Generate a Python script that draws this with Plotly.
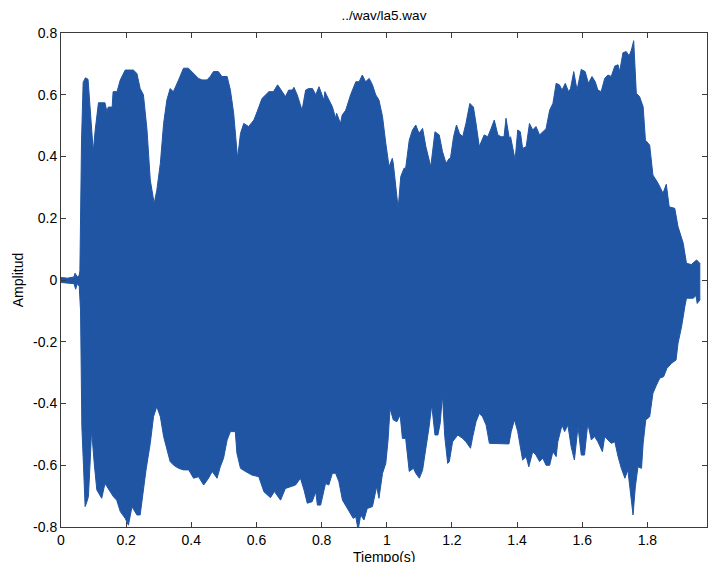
import plotly.graph_objects as go

title_text = "../wav/la5.wav"
x_label = "Tiempo(s)"
y_label = "Amplitud"

# Upper envelope of the waveform (time s, amplitude)
t_upper = [0.0, 0.02, 0.04, 0.043, 0.05, 0.056, 0.058, 0.063, 0.068, 0.075, 0.083, 0.089, 0.096, 0.099,
           0.105, 0.11, 0.115, 0.135, 0.141, 0.145, 0.157, 0.16, 0.172, 0.182, 0.197, 0.212, 0.222,
           0.233, 0.243, 0.253, 0.264, 0.274, 0.286, 0.294, 0.305, 0.315, 0.325, 0.335, 0.345, 0.361,
           0.376, 0.391, 0.402, 0.422, 0.433, 0.448, 0.458, 0.468, 0.483, 0.494, 0.51, 0.52, 0.53,
           0.542, 0.551, 0.561, 0.576, 0.592, 0.602, 0.617, 0.638, 0.652, 0.665, 0.689, 0.699, 0.71,
           0.715, 0.725, 0.74, 0.751, 0.76, 0.772, 0.782, 0.792, 0.807, 0.81, 0.833, 0.843, 0.846,
           0.858, 0.863, 0.874, 0.889, 0.905, 0.915, 0.925, 0.935, 0.946, 0.956, 0.966, 0.976, 0.987,
           0.997, 1.007, 1.017, 1.02, 1.035, 1.043, 1.053, 1.058, 1.069, 1.079, 1.089, 1.099, 1.11,
           1.12, 1.135, 1.148, 1.161, 1.171, 1.182, 1.192, 1.195, 1.205, 1.214, 1.223, 1.233, 1.243,
           1.255, 1.266, 1.274, 1.284, 1.299, 1.31, 1.32, 1.33, 1.341, 1.351, 1.36, 1.366, 1.376,
           1.38, 1.394, 1.402, 1.41, 1.417, 1.428, 1.438, 1.448, 1.458, 1.469, 1.479, 1.489, 1.5,
           1.51, 1.52, 1.53, 1.538, 1.548, 1.558, 1.564, 1.574, 1.584, 1.597, 1.609, 1.619, 1.63,
           1.64, 1.648, 1.658, 1.669, 1.679, 1.689, 1.7, 1.71, 1.715, 1.725, 1.735, 1.744, 1.751,
           1.758, 1.766, 1.776, 1.787, 1.794, 1.807, 1.817, 1.833, 1.848, 1.858, 1.867, 1.884, 1.894,
           1.91, 1.92, 1.935, 1.951, 1.961]
a_upper = [0.008, 0.006, 0.01, 0.022, 0.01, 0.015, 0.03, 0.45, 0.64, 0.655, 0.65, 0.55, 0.45, 0.416,
           0.486, 0.529, 0.574, 0.574, 0.545, 0.56, 0.56, 0.61, 0.61, 0.648, 0.68, 0.68, 0.68,
           0.669, 0.62, 0.6, 0.486, 0.324, 0.248, 0.29, 0.378, 0.507, 0.583, 0.62, 0.61, 0.648,
           0.686, 0.686, 0.675, 0.653, 0.648, 0.648, 0.659, 0.675, 0.675, 0.659, 0.659, 0.615, 0.54,
           0.394, 0.475, 0.507, 0.497, 0.518, 0.545, 0.588, 0.61, 0.61, 0.632, 0.594, 0.615, 0.615,
           0.624, 0.6, 0.55, 0.615, 0.62, 0.62, 0.6, 0.626, 0.583, 0.61, 0.561, 0.524, 0.54,
           0.507, 0.534, 0.55, 0.6, 0.642, 0.642, 0.664, 0.642, 0.653, 0.632, 0.6, 0.583, 0.529,
           0.443, 0.367, 0.394, 0.378, 0.232, 0.335, 0.362, 0.362, 0.453, 0.486, 0.502, 0.475, 0.491,
           0.432, 0.367, 0.48, 0.47, 0.416, 0.378, 0.394, 0.39, 0.464, 0.502, 0.475, 0.464, 0.507,
           0.572, 0.56, 0.507, 0.432, 0.47, 0.464, 0.49, 0.518, 0.47, 0.464, 0.464, 0.524, 0.459,
           0.464, 0.389, 0.486, 0.48, 0.426, 0.432, 0.507, 0.486, 0.497, 0.47, 0.48, 0.49, 0.55,
           0.572, 0.637, 0.632, 0.615, 0.637, 0.61, 0.62, 0.675, 0.615, 0.682, 0.675, 0.637, 0.659,
           0.642, 0.615, 0.61, 0.653, 0.664, 0.659, 0.693, 0.697, 0.675, 0.736, 0.74, 0.726, 0.745,
           0.775, 0.605, 0.594, 0.561, 0.453, 0.437, 0.34, 0.313, 0.281, 0.31, 0.237, 0.232, 0.173,
           0.119, 0.054, 0.05, 0.065, 0.054]

# Lower envelope of the waveform (time s, amplitude)
t_lower = [0.0, 0.02, 0.04, 0.045, 0.05, 0.056, 0.06, 0.064, 0.069, 0.074, 0.079, 0.084, 0.089, 0.094,
           0.102, 0.11, 0.125, 0.135, 0.146, 0.161, 0.171, 0.182, 0.197, 0.207, 0.218, 0.233, 0.243,
           0.25, 0.261, 0.274, 0.284, 0.294, 0.305, 0.315, 0.325, 0.335, 0.346, 0.361, 0.376, 0.392,
           0.407, 0.422, 0.438, 0.453, 0.464, 0.479, 0.489, 0.499, 0.51, 0.52, 0.535, 0.54, 0.551,
           0.566, 0.587, 0.607, 0.623, 0.643, 0.655, 0.674, 0.689, 0.705, 0.72, 0.735, 0.746, 0.756,
           0.771, 0.782, 0.787, 0.797, 0.812, 0.822, 0.833, 0.843, 0.853, 0.864, 0.882, 0.897, 0.905,
           0.912, 0.92, 0.93, 0.94, 0.956, 0.969, 0.976, 0.987, 0.997, 1.004, 1.01, 1.02, 1.031,
           1.041, 1.048, 1.058, 1.069, 1.082, 1.089, 1.1, 1.11, 1.12, 1.13, 1.138, 1.148, 1.157,
           1.164, 1.171, 1.178, 1.187, 1.192, 1.202, 1.218, 1.233, 1.243, 1.257, 1.264, 1.274, 1.284,
           1.294, 1.305, 1.315, 1.325, 1.375, 1.382, 1.392, 1.402, 1.41, 1.417, 1.428, 1.436, 1.448,
           1.458, 1.469, 1.479, 1.489, 1.5, 1.51, 1.52, 1.525, 1.538, 1.546, 1.556, 1.566, 1.576,
           1.587, 1.597, 1.607, 1.617, 1.628, 1.638, 1.648, 1.662, 1.669, 1.679, 1.689, 1.7, 1.71,
           1.72, 1.731, 1.74, 1.748, 1.756, 1.763, 1.771, 1.782, 1.787, 1.795, 1.807, 1.817, 1.828,
           1.838, 1.85, 1.86, 1.874, 1.888, 1.894, 1.905, 1.915, 1.92, 1.941, 1.949, 1.953, 1.961]
a_lower = [-0.008, -0.01, -0.012, -0.03, -0.012, -0.02, -0.1, -0.475, -0.6, -0.734, -0.72, -0.702, -0.6, -0.486,
           -0.594, -0.68, -0.707, -0.659, -0.675, -0.702, -0.713, -0.75, -0.772, -0.794, -0.734, -0.761, -0.761,
           -0.702, -0.615, -0.529, -0.443, -0.41, -0.443, -0.507, -0.551, -0.588, -0.6, -0.61, -0.615, -0.615,
           -0.642, -0.637, -0.664, -0.642, -0.62, -0.642, -0.605, -0.577, -0.518, -0.491, -0.491, -0.561, -0.61,
           -0.62, -0.632, -0.637, -0.686, -0.705, -0.685, -0.713, -0.675, -0.67, -0.664, -0.642, -0.68, -0.723,
           -0.718, -0.686, -0.729, -0.729, -0.659, -0.664, -0.626, -0.626, -0.653, -0.713, -0.745, -0.772, -0.767,
           -0.81, -0.761, -0.777, -0.74, -0.734, -0.669, -0.707, -0.626, -0.594, -0.518, -0.416, -0.453, -0.459,
           -0.437, -0.513, -0.513, -0.62, -0.61, -0.626, -0.642, -0.615, -0.551, -0.475, -0.405, -0.502, -0.502,
           -0.464, -0.372, -0.507, -0.594, -0.588, -0.524, -0.502, -0.513, -0.524, -0.545, -0.507, -0.459, -0.432,
           -0.443, -0.47, -0.529, -0.531, -0.531, -0.491, -0.453, -0.491, -0.545, -0.583, -0.572, -0.605, -0.556,
           -0.567, -0.588, -0.577, -0.6, -0.6, -0.556, -0.572, -0.524, -0.47, -0.491, -0.47, -0.54, -0.583,
           -0.475, -0.567, -0.567, -0.464, -0.518, -0.507, -0.524, -0.556, -0.507, -0.518, -0.529, -0.524, -0.572,
           -0.61, -0.642, -0.615, -0.68, -0.761, -0.67, -0.605, -0.61, -0.529, -0.453, -0.443, -0.367, -0.34,
           -0.318, -0.313, -0.286, -0.27, -0.259, -0.205, -0.151, -0.086, -0.059, -0.059, -0.05, -0.076, -0.065]

x_ticks = [0, 0.2, 0.4, 0.6, 0.8, 1.0, 1.2, 1.4, 1.6, 1.8]
x_tick_text = ["0", "0.2", "0.4", "0.6", "0.8", "1", "1.2", "1.4", "1.6", "1.8"]
y_ticks = [-0.8, -0.6, -0.4, -0.2, 0, 0.2, 0.4, 0.6, 0.8]
y_tick_text = ["-0.8", "-0.6", "-0.4", "-0.2", "0", "0.2", "0.4", "0.6", "0.8"]
x_range = [0, 1.983]
y_range = [-0.8, 0.8]

wave_color = "#1f55a3"
axis_color = "#3a3a3a"
font_family = "Liberation Sans, Arial, sans-serif"

W, H = 709, 562
M_L, M_R, M_T, M_B = 61, 2, 33, 35
plot_h = H - M_T - M_B

poly_x = t_upper + t_lower[::-1]
poly_y = a_upper + a_lower[::-1]

fig = go.Figure()
fig.add_trace(go.Scatter(
    x=poly_x, y=poly_y, mode="lines", fill="toself",
    fillcolor=wave_color, line=dict(color=wave_color, width=1),
    hoverinfo="skip", showlegend=False,
))

axis_common = dict(
    showgrid=False, zeroline=False, showline=True, linecolor=axis_color, linewidth=1,
    mirror="allticks", ticks="inside", ticklen=5, tickcolor=axis_color, tickwidth=1,
    automargin=False,
    tickfont=dict(family=font_family, size=14, color="#000000"),
)

fig.update_layout(
    width=W, height=H,
    margin=dict(l=M_L, r=M_R, t=M_T, b=M_B),
    paper_bgcolor="white", plot_bgcolor="white",
    font=dict(family=font_family, color="#000000"),
    title=dict(text=title_text, x=0.5, xref="paper", y=1 - 15 / H, yanchor="middle",
               font=dict(family=font_family, size=13.5, color="#000000")),
    xaxis=dict(range=x_range, tickvals=x_ticks, ticktext=x_tick_text, **axis_common),
    yaxis=dict(range=y_range, tickvals=y_ticks, ticktext=y_tick_text,
               title=dict(text=y_label, standoff=6, font=dict(family=font_family, size=14)),
               **axis_common),
    annotations=[dict(
        text=x_label, xref="paper", yref="paper", x=0.5, y=-20 / plot_h,
        xanchor="center", yanchor="top", showarrow=False,
        font=dict(family=font_family, size=14, color="#000000"),
    )],
)

fig.write_html("out.html", config={"displayModeBar": False},
               post_script="document.body.style.margin='0';")
